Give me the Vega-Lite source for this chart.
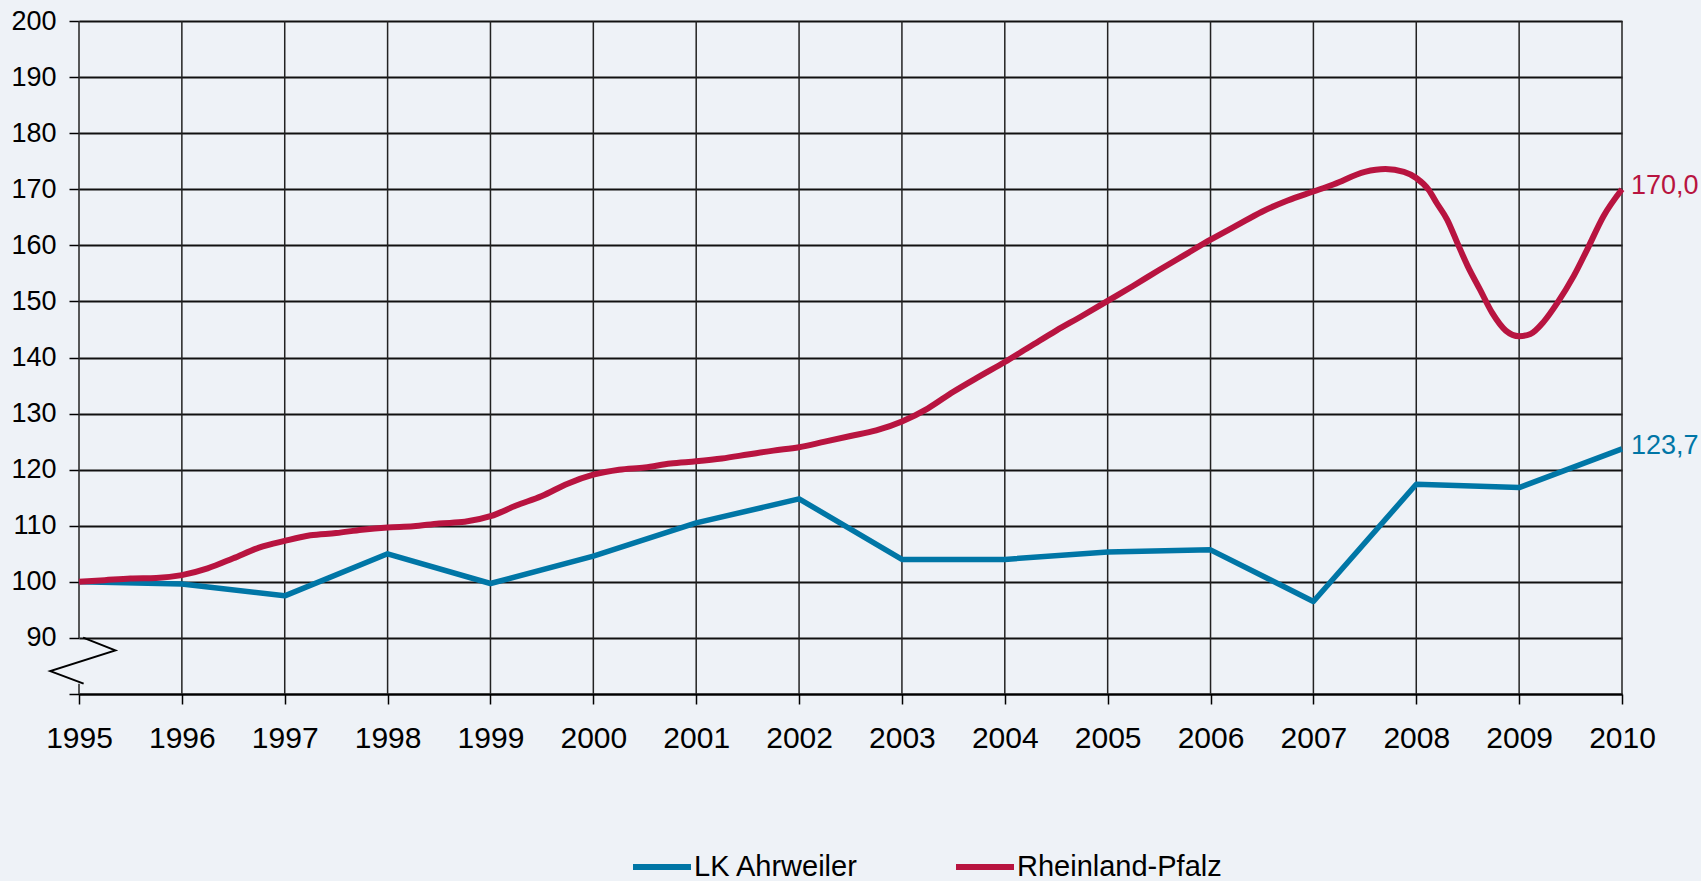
{
  "$schema": "https://vega.github.io/schema/vega-lite/v6.json",
  "width": 1543,
  "height": 673,
  "autosize": {"type": "none"},
  "padding": {"left": 79, "top": 21, "right": 79, "bottom": 187},
  "background": "#eef2f7",
  "config": {
    "view": {"stroke": null},
    "font": "Liberation Sans",
    "locale": {"number": {"decimal": ",", "thousands": ".", "grouping": [3], "currency": ["", " €"]}},
    "legend": {
      "orient": "none",
      "legendX": 551,
      "legendY": 814,
      "direction": "horizontal",
      "title": null,
      "symbolType": "stroke",
      "symbolSize": 3364,
      "symbolStrokeWidth": 6,
      "labelFontSize": 29,
      "labelOffset": 0,
      "columnPadding": 85,
      "labelColor": "#000",
      "labelLimit": 500
    }
  },
  "datasets": {
    "lines": [
      {"series": "LK Ahrweiler", "year": 1995, "value": 100.0},
      {"series": "LK Ahrweiler", "year": 1996, "value": 99.6},
      {"series": "LK Ahrweiler", "year": 1997, "value": 97.5},
      {"series": "LK Ahrweiler", "year": 1998, "value": 105.0},
      {"series": "LK Ahrweiler", "year": 1999, "value": 99.7},
      {"series": "LK Ahrweiler", "year": 2000, "value": 104.6},
      {"series": "LK Ahrweiler", "year": 2001, "value": 110.5},
      {"series": "LK Ahrweiler", "year": 2002, "value": 114.8},
      {"series": "LK Ahrweiler", "year": 2003, "value": 104.0},
      {"series": "LK Ahrweiler", "year": 2004, "value": 104.0},
      {"series": "LK Ahrweiler", "year": 2005, "value": 105.3},
      {"series": "LK Ahrweiler", "year": 2006, "value": 105.7},
      {"series": "LK Ahrweiler", "year": 2007, "value": 96.5},
      {"series": "LK Ahrweiler", "year": 2008, "value": 117.4},
      {"series": "LK Ahrweiler", "year": 2009, "value": 116.8},
      {"series": "LK Ahrweiler", "year": 2010, "value": 123.7},
      {"series": "Rheinland-Pfalz", "year": 1995.0, "value": 100.0},
      {"series": "Rheinland-Pfalz", "year": 1995.25, "value": 100.3},
      {"series": "Rheinland-Pfalz", "year": 1995.5, "value": 100.6},
      {"series": "Rheinland-Pfalz", "year": 1995.75, "value": 100.7},
      {"series": "Rheinland-Pfalz", "year": 1996.0, "value": 101.2},
      {"series": "Rheinland-Pfalz", "year": 1996.25, "value": 102.4},
      {"series": "Rheinland-Pfalz", "year": 1996.5, "value": 104.2},
      {"series": "Rheinland-Pfalz", "year": 1996.75, "value": 106.1},
      {"series": "Rheinland-Pfalz", "year": 1997.0, "value": 107.3},
      {"series": "Rheinland-Pfalz", "year": 1997.25, "value": 108.3},
      {"series": "Rheinland-Pfalz", "year": 1997.5, "value": 108.7},
      {"series": "Rheinland-Pfalz", "year": 1997.75, "value": 109.3},
      {"series": "Rheinland-Pfalz", "year": 1998.0, "value": 109.7},
      {"series": "Rheinland-Pfalz", "year": 1998.25, "value": 109.9},
      {"series": "Rheinland-Pfalz", "year": 1998.5, "value": 110.4},
      {"series": "Rheinland-Pfalz", "year": 1998.75, "value": 110.7},
      {"series": "Rheinland-Pfalz", "year": 1999.0, "value": 111.7},
      {"series": "Rheinland-Pfalz", "year": 1999.25, "value": 113.6},
      {"series": "Rheinland-Pfalz", "year": 1999.5, "value": 115.3},
      {"series": "Rheinland-Pfalz", "year": 1999.75, "value": 117.5},
      {"series": "Rheinland-Pfalz", "year": 2000.0, "value": 119.1},
      {"series": "Rheinland-Pfalz", "year": 2000.25, "value": 120.0},
      {"series": "Rheinland-Pfalz", "year": 2000.5, "value": 120.4},
      {"series": "Rheinland-Pfalz", "year": 2000.75, "value": 121.1},
      {"series": "Rheinland-Pfalz", "year": 2001.0, "value": 121.5},
      {"series": "Rheinland-Pfalz", "year": 2001.25, "value": 122.0},
      {"series": "Rheinland-Pfalz", "year": 2001.5, "value": 122.7},
      {"series": "Rheinland-Pfalz", "year": 2001.75, "value": 123.4},
      {"series": "Rheinland-Pfalz", "year": 2002.0, "value": 124.0},
      {"series": "Rheinland-Pfalz", "year": 2002.25, "value": 125.0},
      {"series": "Rheinland-Pfalz", "year": 2002.5, "value": 126.0},
      {"series": "Rheinland-Pfalz", "year": 2002.75, "value": 127.0},
      {"series": "Rheinland-Pfalz", "year": 2003.0, "value": 128.6},
      {"series": "Rheinland-Pfalz", "year": 2003.25, "value": 130.9},
      {"series": "Rheinland-Pfalz", "year": 2003.5, "value": 133.9},
      {"series": "Rheinland-Pfalz", "year": 2003.75, "value": 136.6},
      {"series": "Rheinland-Pfalz", "year": 2004.0, "value": 139.2},
      {"series": "Rheinland-Pfalz", "year": 2004.25, "value": 142.0},
      {"series": "Rheinland-Pfalz", "year": 2004.5, "value": 144.8},
      {"series": "Rheinland-Pfalz", "year": 2004.75, "value": 147.4},
      {"series": "Rheinland-Pfalz", "year": 2005.0, "value": 150.1},
      {"series": "Rheinland-Pfalz", "year": 2005.25, "value": 152.8},
      {"series": "Rheinland-Pfalz", "year": 2005.5, "value": 155.6},
      {"series": "Rheinland-Pfalz", "year": 2005.75, "value": 158.3},
      {"series": "Rheinland-Pfalz", "year": 2006.0, "value": 161.0},
      {"series": "Rheinland-Pfalz", "year": 2006.25, "value": 163.5},
      {"series": "Rheinland-Pfalz", "year": 2006.5, "value": 166.0},
      {"series": "Rheinland-Pfalz", "year": 2006.75, "value": 168.0},
      {"series": "Rheinland-Pfalz", "year": 2007.0, "value": 169.6},
      {"series": "Rheinland-Pfalz", "year": 2007.2, "value": 170.9},
      {"series": "Rheinland-Pfalz", "year": 2007.5, "value": 173.1},
      {"series": "Rheinland-Pfalz", "year": 2007.7, "value": 173.6},
      {"series": "Rheinland-Pfalz", "year": 2007.88, "value": 173.1},
      {"series": "Rheinland-Pfalz", "year": 2008.0, "value": 172.0},
      {"series": "Rheinland-Pfalz", "year": 2008.12, "value": 169.9},
      {"series": "Rheinland-Pfalz", "year": 2008.2, "value": 167.5},
      {"series": "Rheinland-Pfalz", "year": 2008.3, "value": 164.6},
      {"series": "Rheinland-Pfalz", "year": 2008.4, "value": 160.4},
      {"series": "Rheinland-Pfalz", "year": 2008.5, "value": 156.3},
      {"series": "Rheinland-Pfalz", "year": 2008.62, "value": 152.1},
      {"series": "Rheinland-Pfalz", "year": 2008.74, "value": 147.9},
      {"series": "Rheinland-Pfalz", "year": 2008.87, "value": 144.8},
      {"series": "Rheinland-Pfalz", "year": 2009.0, "value": 143.8},
      {"series": "Rheinland-Pfalz", "year": 2009.11, "value": 144.2},
      {"series": "Rheinland-Pfalz", "year": 2009.24, "value": 146.4},
      {"series": "Rheinland-Pfalz", "year": 2009.37, "value": 149.7},
      {"series": "Rheinland-Pfalz", "year": 2009.53, "value": 154.5},
      {"series": "Rheinland-Pfalz", "year": 2009.66, "value": 159.2},
      {"series": "Rheinland-Pfalz", "year": 2009.82, "value": 165.2},
      {"series": "Rheinland-Pfalz", "year": 2010.0, "value": 170.0}
    ],
    "vgrid": [
      {"year": 1995, "lo": 90, "hi": 200},
      {"year": 1995, "lo": 80, "hi": 81.84},
      {"year": 1996, "lo": 80, "hi": 200},
      {"year": 1997, "lo": 80, "hi": 200},
      {"year": 1998, "lo": 80, "hi": 200},
      {"year": 1999, "lo": 80, "hi": 200},
      {"year": 2000, "lo": 80, "hi": 200},
      {"year": 2001, "lo": 80, "hi": 200},
      {"year": 2002, "lo": 80, "hi": 200},
      {"year": 2003, "lo": 80, "hi": 200},
      {"year": 2004, "lo": 80, "hi": 200},
      {"year": 2005, "lo": 80, "hi": 200},
      {"year": 2006, "lo": 80, "hi": 200},
      {"year": 2007, "lo": 80, "hi": 200},
      {"year": 2008, "lo": 80, "hi": 200},
      {"year": 2009, "lo": 80, "hi": 200},
      {"year": 2010, "lo": 80, "hi": 200}
    ],
    "zigzag": [
      {"i": 1, "year": 1995.04, "value": 90.04},
      {"i": 2, "year": 1995.353, "value": 87.77},
      {"i": 3, "year": 1994.721, "value": 84.08},
      {"i": 4, "year": 1995.045, "value": 81.84}
    ]
  },
  "layer": [
    {
      "data": {"name": "vgrid"},
      "mark": {"type": "rule", "color": "#222", "strokeWidth": 1.5},
      "encoding": {
        "x": {
          "field": "year", "type": "quantitative",
          "scale": {"domain": [1995, 2010], "nice": false, "zero": false},
          "axis": {
            "values": [1995, 1996, 1997, 1998, 1999, 2000, 2001, 2002, 2003, 2004, 2005, 2006, 2007, 2008, 2009, 2010],
            "format": "d", "grid": false, "title": null,
            "domainColor": "#000", "domainWidth": 2,
            "tickColor": "#000", "tickWidth": 1.5, "tickSize": 10,
            "labelFontSize": 30, "labelPadding": 19, "labelColor": "#000",
            "labelFlush": false, "labelOverlap": false
          }
        },
        "y": {
          "field": "lo", "type": "quantitative",
          "scale": {"domain": [80, 200], "nice": false, "zero": false},
          "axis": {
            "values": [80, 90, 100, 110, 120, 130, 140, 150, 160, 170, 180, 190, 200],
            "labelExpr": "datum.value == 80 ? '' : datum.label",
            "domain": false, "grid": true, "gridColor": "#111", "gridWidth": 2, "gridOpacity": 1,
            "tickColor": "#000", "tickWidth": 1.5, "tickSize": 10,
            "labelFontSize": 27, "labelPadding": 13, "labelColor": "#000", "title": null
          }
        },
        "y2": {"field": "hi"}
      }
    },
    {
      "data": {"name": "zigzag"},
      "mark": {"type": "line", "color": "#000", "strokeWidth": 2, "clip": false},
      "encoding": {
        "x": {"field": "year", "type": "quantitative", "scale": {"domain": [1995, 2010], "nice": false, "zero": false}},
        "y": {"field": "value", "type": "quantitative", "scale": {"domain": [80, 200], "nice": false, "zero": false}},
        "order": {"field": "i"}
      }
    },
    {
      "data": {"name": "lines"},
      "transform": [{"filter": "datum.series == 'LK Ahrweiler'"}],
      "mark": {"type": "line", "strokeWidth": 5.5, "strokeJoin": "round"},
      "encoding": {
        "x": {"field": "year", "type": "quantitative", "scale": {"domain": [1995, 2010], "nice": false, "zero": false}},
        "y": {"field": "value", "type": "quantitative", "scale": {"domain": [80, 200], "nice": false, "zero": false}},
        "color": {
          "field": "series", "type": "nominal",
          "scale": {"domain": ["LK Ahrweiler", "Rheinland-Pfalz"], "range": ["#0076a6", "#b81440"]}
        }
      }
    },
    {
      "data": {"name": "lines"},
      "transform": [{"filter": "datum.series == 'Rheinland-Pfalz'"}],
      "mark": {"type": "line", "strokeWidth": 6, "strokeJoin": "round", "interpolate": "monotone"},
      "encoding": {
        "x": {"field": "year", "type": "quantitative", "scale": {"domain": [1995, 2010], "nice": false, "zero": false}},
        "y": {"field": "value", "type": "quantitative", "scale": {"domain": [80, 200], "nice": false, "zero": false}},
        "color": {
          "field": "series", "type": "nominal",
          "scale": {"domain": ["LK Ahrweiler", "Rheinland-Pfalz"], "range": ["#0076a6", "#b81440"]}
        }
      }
    },
    {
      "data": {"name": "lines"},
      "transform": [{"filter": "datum.year == 2010"}],
      "mark": {"type": "text", "align": "left", "baseline": "middle", "dx": 9, "dy": -3, "fontSize": 27},
      "encoding": {
        "x": {"field": "year", "type": "quantitative", "scale": {"domain": [1995, 2010], "nice": false, "zero": false}},
        "y": {"field": "value", "type": "quantitative", "scale": {"domain": [80, 200], "nice": false, "zero": false}},
        "text": {"field": "value", "type": "quantitative", "format": ".1f"},
        "color": {
          "field": "series", "type": "nominal",
          "scale": {"domain": ["LK Ahrweiler", "Rheinland-Pfalz"], "range": ["#0076a6", "#b81440"]}
        }
      }
    }
  ]
}
